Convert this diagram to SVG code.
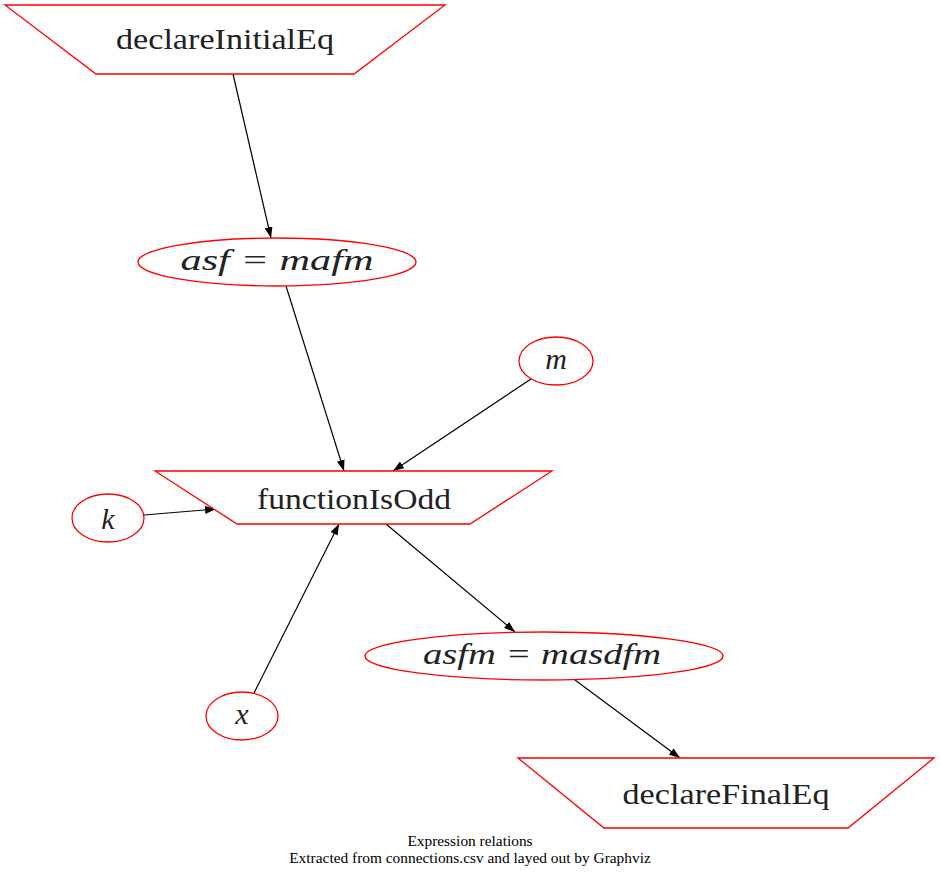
<svg xmlns="http://www.w3.org/2000/svg" width="940" height="879" viewBox="0 0 940 879">
<defs>
<marker id="arr" markerWidth="11" markerHeight="8" refX="11" refY="4" orient="auto" markerUnits="userSpaceOnUse">
<path d="M0,0 L11,4 L0,8 z" fill="#000" stroke="none"/>
</marker>
</defs>
<style>
.shape{fill:#fff;stroke:#ff0000;stroke-width:1.3}
.lbl{font-family:"Liberation Serif","DejaVu Serif",serif;font-size:30px;fill:#222;text-anchor:middle}
.math{font-family:"Liberation Serif","DejaVu Serif",serif;font-style:italic;font-size:30px;fill:#222;text-anchor:middle}
.edge{fill:none;stroke:#000;stroke-width:1.2;marker-end:url(#arr)}
.cap{font-family:"Liberation Serif","DejaVu Serif",serif;font-size:15.4px;fill:#000;text-anchor:middle}
</style>
<rect width="940" height="879" fill="#fff"/>
<g id="edges">
<path class="edge" d="M233,74 L271,238"/>
<path class="edge" d="M286,286 L344,471"/>
<path class="edge" d="M531,379 L393,471"/>
<path class="edge" d="M144,515 L216,509"/>
<path class="edge" d="M254,693 L339,524"/>
<path class="edge" d="M386,524 L515,632"/>
<path class="edge" d="M575,680 L680,758"/>
</g>
<g id="declareInitialEq">
<polygon class="shape" points="5,5 445,5 354,74 96,74"/>
<text class="lbl" x="225" y="49" textLength="218" lengthAdjust="spacingAndGlyphs">declareInitialEq</text>
</g>
<g id="asf_mafm">
<ellipse class="shape" cx="277" cy="262" rx="139" ry="24"/>
<text class="math" x="277" y="270" textLength="193" lengthAdjust="spacingAndGlyphs">asf = mafm</text>
</g>
<g id="m">
<ellipse class="shape" cx="556" cy="361" rx="37" ry="24"/>
<text class="math" x="556" y="369">m</text>
</g>
<g id="functionIsOdd">
<polygon class="shape" points="155,471 552,471 470,524 237,524"/>
<text class="lbl" x="354" y="509" textLength="194" lengthAdjust="spacingAndGlyphs">functionIsOdd</text>
</g>
<g id="k">
<ellipse class="shape" cx="108" cy="518" rx="36" ry="24"/>
<text class="math" x="108" y="529">k</text>
</g>
<g id="x">
<ellipse class="shape" cx="242" cy="716" rx="36" ry="24"/>
<text class="math" x="242" y="724">x</text>
</g>
<g id="asfm_masdfm">
<ellipse class="shape" cx="544" cy="656" rx="179" ry="24"/>
<text class="math" x="542" y="664" textLength="238" lengthAdjust="spacingAndGlyphs">asfm = masdfm</text>
</g>
<g id="declareFinalEq">
<polygon class="shape" points="518,758 934,758 848,828 604,828"/>
<text class="lbl" x="726" y="804" textLength="207" lengthAdjust="spacingAndGlyphs">declareFinalEq</text>
</g>
<g id="caption">
<text class="cap" x="470" y="846">Expression relations</text>
<text class="cap" x="470" y="863">Extracted from connections.csv and layed out by Graphviz</text>
</g>
</svg>
